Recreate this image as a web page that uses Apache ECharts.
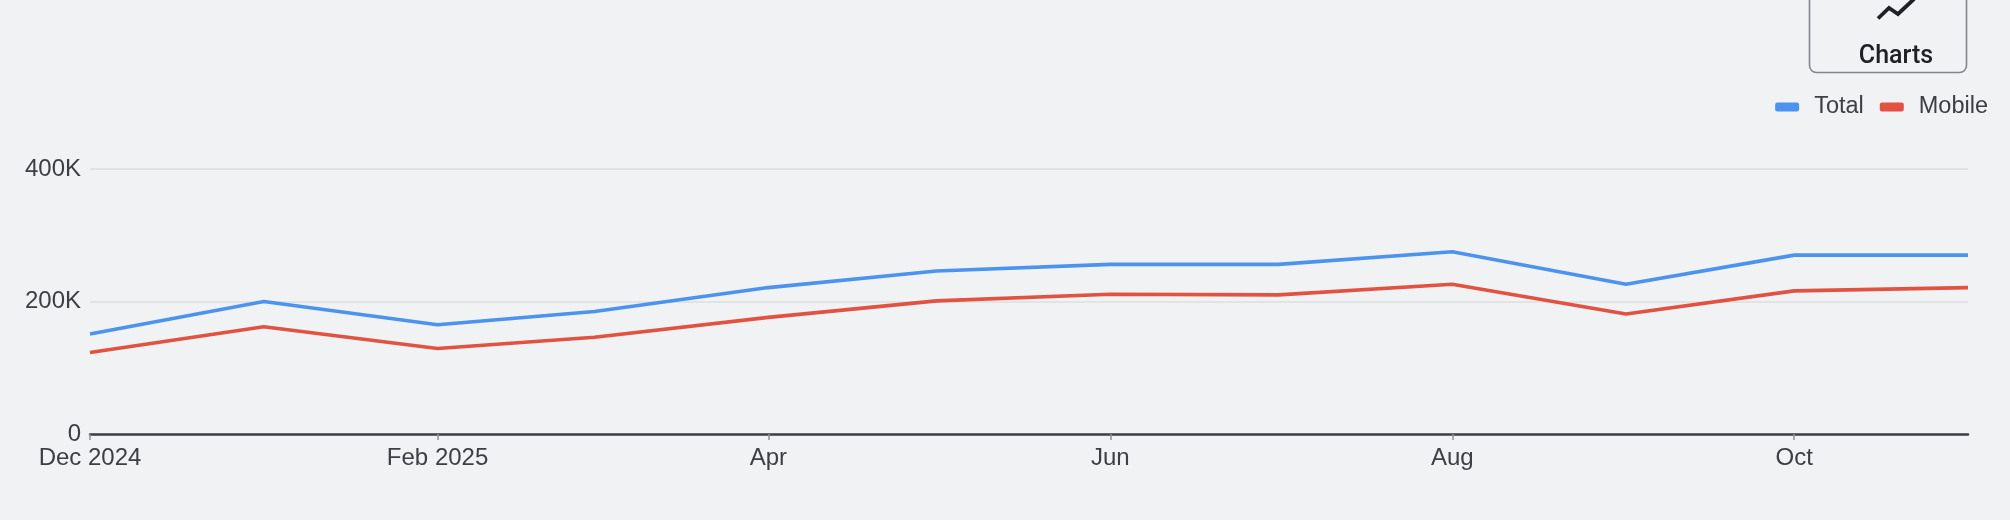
<!DOCTYPE html>
<html lang="en">
<head>
    <meta charset="UTF-8">
    <title>Total vs Mobile</title>
    <script src="https://cdn.jsdelivr.net/npm/echarts@6/dist/echarts.min.js"></script>
    <style>
        html, body { margin: 0; padding: 0; background: #f1f2f4; }
        #chart { width: 2010px; height: 520px; }
    </style>
</head>
<body>
<div id="chart"></div>
<script>
    // monthly data, first day of each month
    const months = ['2024-12-01', '2025-01-01', '2025-02-01', '2025-03-01', '2025-04-01', '2025-05-01',
        '2025-06-01', '2025-07-01', '2025-08-01', '2025-09-01', '2025-10-01', '2025-11-01'];
    const totalValues = [151000, 200000, 165000, 185000, 221000, 246000, 256000, 256000, 275000, 226000, 270000, 270000];
    const mobileValues = [123000, 162000, 129000, 146000, 176000, 201000, 211000, 210000, 226000, 181000, 216000, 221000];

    // x tick positions and their labels
    const xTickDates = ['2024-12-01', '2025-02-01', '2025-04-01', '2025-06-01', '2025-08-01', '2025-10-01'];
    const xTickLabels = ['Dec 2024', 'Feb 2025', 'Apr', 'Jun', 'Aug', 'Oct'];

    // dates -> ms so a linear axis spaces months by their real length
    const toTime = s => Date.parse(s + 'T00:00:00Z');
    const tickTimes = xTickDates.map(toTime);

    const chart = echarts.init(document.getElementById('chart'));

    const axisFont = {
        fontFamily: 'Liberation Sans, Arial, sans-serif',
        fontSize: 24,
        color: '#3c4043'
    };

    chart.setOption({
        backgroundColor: '#f1f2f4',
        animation: false,
        color: ['#4b93ee', '#e15241'],
        legend: {
            right: 22,
            top: 95,
            padding: 0,
            icon: 'roundRect',
            itemWidth: 24,
            itemHeight: 9,
            itemGap: 16,
            textStyle: {
                fontFamily: 'Liberation Sans, Arial, sans-serif',
                fontSize: 23.5,
                color: '#3c4043',
                padding: [0, 0, 0, 10]
            },
            data: ['Total', 'Mobile']
        },
        grid: {
            left: 90,
            right: 42,
            top: 169,
            bottom: 86
        },
        xAxis: {
            type: 'value',
            min: toTime(months[0]),
            max: toTime(months[months.length - 1]),
            axisLine: { lineStyle: { color: '#3c4043', width: 2.5 } },
            axisTick: {
                show: true,
                customValues: tickTimes,
                length: 6,
                lineStyle: { color: '#8e9297', width: 1.5 }
            },
            axisLabel: Object.assign({
                customValues: tickTimes,
                margin: 12,
                formatter: function (val) {
                    const i = tickTimes.indexOf(val);
                    return i >= 0 ? xTickLabels[i] : '';
                }
            }, axisFont),
            splitLine: { show: false }
        },
        yAxis: {
            type: 'value',
            min: 0,
            max: 400000,
            interval: 200000,
            axisLine: { show: false },
            axisTick: { show: false },
            axisLabel: Object.assign({
                margin: 9,
                formatter: v => v === 0 ? '0' : (v / 1000) + 'K'
            }, axisFont),
            splitLine: { lineStyle: { color: '#dcdee1', width: 1.5 } }
        },
        series: [
            {
                name: 'Total',
                type: 'line',
                showSymbol: false,
                lineStyle: { width: 3.6 },
                data: months.map((m, i) => [toTime(m), totalValues[i]])
            },
            {
                name: 'Mobile',
                type: 'line',
                showSymbol: false,
                lineStyle: { width: 3.6 },
                data: months.map((m, i) => [toTime(m), mobileValues[i]])
            }
        ],
        graphic: [
            {
                type: 'rect',
                shape: { x: 1809.5, y: -20, width: 157, height: 92.5, r: 7 },
                style: { fill: 'none', stroke: '#80868b', lineWidth: 1.6 }
            },
            {
                type: 'polyline',
                shape: { points: [[1878, 18.5], [1889, 8], [1898, 14], [1914, -1]] },
                style: { fill: 'none', stroke: '#202124', lineWidth: 3.8 }
            },
            {
                type: 'text',
                x: 1896,
                y: 57,
                style: {
                    text: 'Charts',
                    fontFamily: 'Roboto, sans-serif',
                    fontWeight: 500,
                    fontSize: 25,
                    fill: '#202124',
                    align: 'center',
                    verticalAlign: 'middle'
                }
            }
        ]
    });
</script>
</body>
</html>
